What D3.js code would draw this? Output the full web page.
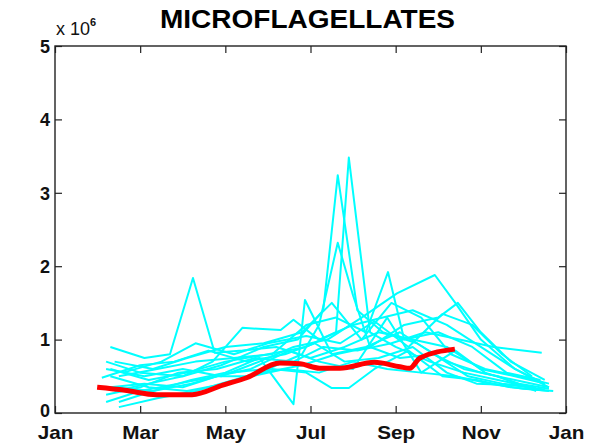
<!DOCTYPE html>
<html><head><meta charset="utf-8">
<script src="https://cdn.jsdelivr.net/npm/d3@7"></script>
<style>body{margin:0;background:#fff}svg{display:block}</style>
</head><body>
<script>
// month index (0 = Jan 1) and values (x 10^6)
const xTickMonths = [0, 2, 4, 6, 8, 10, 12];
const xTickLabels = ["Jan", "Mar", "May", "Jul", "Sep", "Nov", "Jan"];
const yTicks = [0, 1, 2, 3, 4, 5];

const s01 = [[1.3,0.6],[2.2,0.45],[3.1,0.55],[4.0,0.7],[5.0,0.8],[5.9,0.9],[6.6,1.1],[6.9,3.48],[7.4,1.1],[8.0,0.9],[8.8,0.7],[9.6,0.55],[10.4,0.45],[11.2,0.35]];
const s02 = [[1.2,0.7],[2.0,0.55],[3.0,0.5],[3.9,0.65],[4.9,0.9],[5.7,1.0],[6.3,1.4],[6.64,3.24],[7.1,1.4],[7.7,1.1],[8.5,0.95],[9.2,0.7],[10.0,0.55],[10.8,0.45],[11.6,0.35]];
const s03 = [[1.4,0.35],[2.3,0.3],[3.2,0.4],[4.1,0.55],[5.0,0.6],[5.8,0.8],[6.2,1.2],[6.64,2.32],[7.0,1.6],[7.4,0.9],[8.1,0.75],[8.9,0.8],[9.6,0.6],[10.4,0.5],[11.3,0.3]];
const s04 = [[1.3,0.9],[2.1,0.75],[2.7,0.8],[3.24,1.84],[3.75,0.82],[4.4,0.85],[5.2,0.9],[6.0,0.75],[6.8,0.9],[7.6,1.1],[8.4,1.0],[9.2,0.9],[10.0,0.6],[10.8,0.5],[11.5,0.4]];
const s05 = [[1.5,0.5],[2.4,0.6],[3.3,0.7],[4.2,0.75],[5.1,0.8],[5.9,1.2],[6.6,1.3],[7.3,1.1],[7.82,1.92],[8.2,1.0],[9.0,1.1],[9.8,0.9],[10.6,0.55],[11.4,0.45]];
const s06 = [[1.2,0.6],[2.1,0.5],[3.0,0.6],[3.9,0.5],[4.8,0.7],[5.6,0.9],[6.4,1.0],[7.2,1.3],[8.03,1.63],[8.92,1.88],[9.4,1.5],[10.0,1.0],[10.8,0.6],[11.6,0.35]];
const s07 = [[1.4,0.3],[2.2,0.4],[3.0,0.5],[3.7,0.7],[4.4,1.16],[5.3,1.13],[5.6,1.27],[6.2,1.0],[7.0,1.2],[7.7,1.3],[8.4,1.4],[9.2,1.2],[10.0,0.9],[10.8,0.6],[11.5,0.4]];
const s08 = [[1.5,0.15],[2.3,0.3],[3.2,0.45],[4.0,0.55],[4.8,0.75],[5.6,0.12],[5.87,1.54],[6.5,0.8],[7.3,0.9],[8.1,1.1],[8.9,0.8],[9.7,0.5],[10.5,0.4],[11.3,0.35]];
const s09 = [[1.3,0.5],[2.2,0.35],[3.1,0.3],[4.0,0.4],[4.9,0.55],[5.8,0.65],[6.6,0.8],[7.4,0.9],[8.2,1.2],[9.0,1.3],[9.46,1.5],[10.0,1.1],[10.7,0.7],[11.5,0.45]];
const s10 = [[1.2,0.25],[2.0,0.35],[2.9,0.55],[3.8,0.6],[4.7,0.75],[5.6,0.7],[6.3,0.9],[7.1,0.85],[7.9,0.95],[8.7,1.1],[9.5,1.0],[10.3,0.9],[11.43,0.82]];
const s11 = [[1.5,0.08],[2.4,0.2],[3.3,0.3],[4.2,0.45],[5.1,0.6],[5.9,0.55],[6.5,0.34],[6.9,0.34],[7.5,0.6],[8.3,0.85],[9.1,0.5],[9.9,0.45],[10.7,0.35],[11.6,0.3]];
const s12 = [[1.1,0.48],[2.0,0.65],[2.8,0.7],[3.6,0.85],[4.5,0.7],[5.4,0.8],[6.1,0.95],[6.8,0.7],[7.6,0.75],[8.4,0.9],[9.2,0.55],[9.9,0.4],[10.7,0.38],[11.5,0.32]];
const s13 = [[1.4,0.7],[2.3,0.6],[3.1,0.75],[4.0,0.9],[4.9,0.95],[5.8,1.1],[6.5,1.5],[7.2,1.0],[7.9,1.5],[8.6,1.3],[9.3,0.8],[10.1,0.6],[10.9,0.5],[11.6,0.4]];
const s14 = [[1.3,0.35],[2.1,0.4],[3.0,0.35],[3.8,0.5],[4.6,0.6],[5.5,0.85],[6.2,0.7],[7.0,0.6],[7.8,1.3],[8.6,0.55],[9.4,0.5],[10.2,0.4],[11.0,0.33],[11.7,0.3]];
const s15 = [[1.6,0.55],[2.5,0.7],[3.3,0.95],[4.2,0.8],[5.0,0.95],[5.9,1.05],[6.7,0.95],[7.5,1.25],[8.3,0.9],[9.1,1.35],[9.8,1.2],[10.5,0.8],[11.2,0.5]];
const s16 = [[1.2,0.15],[2.0,0.3],[2.9,0.4],[3.8,0.5],[4.6,0.5],[5.4,0.6],[6.2,0.55],[7.0,0.7],[7.8,0.6],[8.6,0.55],[9.4,0.85],[10.1,0.55],[10.9,0.4],[11.6,0.33]];
const cyanSeries = [s01,s02,s03,s04,s05,s06,s07,s08,s09,s10,s11,s12,s13,s14,s15,s16];

const meanMonths = [0.99, 1.64, 2.39, 3.22, 3.94, 4.5, 5.28, 5.75, 6.22, 6.69, 7.5, 8.1, 8.33, 8.57, 9.39];
const meanValues = [0.35, 0.31, 0.25, 0.25, 0.38, 0.48, 0.68, 0.67, 0.61, 0.61, 0.69, 0.63, 0.61, 0.75, 0.87];

const W = 591, H = 444;
const m = {left: 55, right: 25, top: 46, bottom: 31};
const svg = d3.select("body").append("svg").attr("width", W).attr("height", H);
const x = d3.scaleLinear().domain([0, 12]).range([m.left, W - m.right]);
const y = d3.scaleLinear().domain([0, 5]).range([H - m.bottom, m.top]);

const line = d3.line().x(d => x(d[0])).y(d => y(d[1]));
const g = svg.append("g");
cyanSeries.forEach(s => {
  g.append("path").datum(s).attr("d", line).attr("fill", "none")
   .attr("stroke", "#00ffff").attr("stroke-width", 2).attr("stroke-linejoin", "round");
});
const meanData = meanMonths.map((mm, i) => [mm, meanValues[i]]);
g.append("path").datum(meanData).attr("d", line.curve(d3.curveMonotoneX)).attr("fill", "none")
 .attr("stroke", "#ff0000").attr("stroke-width", 5).attr("stroke-linejoin", "round");

const font = "'Liberation Sans', Arial, sans-serif";
const axStyle = sel => {
  sel.select(".domain").remove();
  sel.selectAll(".tick line").attr("stroke", "#222").attr("stroke-width", 1.2);
  sel.selectAll("text").attr("font-family", font).attr("font-size", 18)
     .attr("font-weight", "bold").attr("fill", "#111");
};
// bottom
const bx = svg.append("g").attr("transform", `translate(0,${H - m.bottom})`)
  .call(d3.axisBottom(x).tickValues(xTickMonths).tickFormat((d, i) => xTickLabels[i]).tickSizeInner(-7).tickPadding(13))
  .call(axStyle);
bx.selectAll(".tick text").attr("transform", "scale(1.15,1)");
// top (ticks only)
svg.append("g").attr("transform", `translate(0,${m.top})`)
  .call(d3.axisTop(x).tickValues(xTickMonths).tickFormat("").tickSizeInner(-7))
  .call(axStyle);
// left
const ly = svg.append("g").attr("transform", `translate(${m.left},0)`)
  .call(d3.axisLeft(y).tickValues(yTicks).tickFormat(d3.format("d")).tickSizeInner(-7).tickPadding(5))
  .call(axStyle);
ly.selectAll(".tick text").attr("dy", "0.35em");
ly.select(".tick text").attr("dy", "0.2em");
// right
svg.append("g").attr("transform", `translate(${W - m.right},0)`)
  .call(d3.axisRight(y).tickValues(yTicks).tickFormat("").tickSizeInner(-7))
  .call(axStyle);

svg.append("rect").attr("x", m.left).attr("y", m.top)
  .attr("width", W - m.left - m.right).attr("height", H - m.top - m.bottom)
  .attr("fill", "none").attr("stroke", "#222").attr("stroke-width", 1.4);

// exponent label
const ex = svg.append("text").attr("x", 56).attr("y", 35).attr("font-family", font).attr("font-size", 18).attr("fill", "#111");
ex.append("tspan").text("x 10");
ex.append("tspan").attr("dy", -9).attr("font-size", 11).attr("font-weight", "bold").text("6");

// title
svg.append("text").attr("x", 160).attr("y", 28)
  .attr("font-family", font).attr("font-weight", "bold").attr("font-size", 25)
  .attr("textLength", 295).attr("lengthAdjust", "spacingAndGlyphs")
  .attr("fill", "#000").text("MICROFLAGELLATES");
</script>
</body></html>
